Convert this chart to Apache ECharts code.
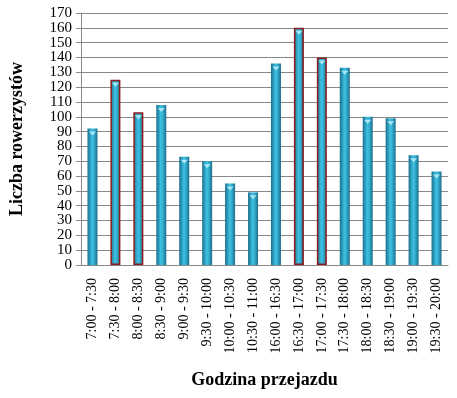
<!DOCTYPE html>
<html>
<head>
<meta charset="utf-8">
<script src="https://cdn.jsdelivr.net/npm/echarts@6/dist/echarts.min.js"></script>
<style>
  html, body { margin: 0; padding: 0; background: #fff; }
  #chart { width: 457px; height: 398px; }
</style>
</head>
<body>
<div id="chart"></div>
<script>
// przedziały czasowe i liczby rowerzystów
var categories = ['7:00 - 7:30', '7:30 - 8:00', '8:00 - 8:30', '8:30 - 9:00', '9:00 - 9:30',
  '9:30 - 10:00', '10:00 - 10:30', '10:30 - 11:00', '16:00 - 16:30', '16:30 - 17:00',
  '17:00 - 17:30', '17:30 - 18:00', '18:00 - 18:30', '18:30 - 19:00', '19:00 - 19:30', '19:30 - 20:00']
var values = [92, 125, 103, 108, 73, 70, 55, 49, 136, 160, 140, 133, 100, 99, 74, 63]
// godziny szczytu obrysowane na czerwono
var peakIndexes = [1, 2, 9, 10]
var yTicks = { min: 0, max: 170, interval: 10 }

var font = "'Liberation Serif', 'Times New Roman', serif"

var barFill = new echarts.graphic.LinearGradient(0, 0, 1, 0, [
  { offset: 0, color: '#1b6f8c' },
  { offset: 0.45, color: '#3dbfe0' },
  { offset: 0.6, color: '#38b6d8' },
  { offset: 1, color: '#1c6e8a' }
])

var barData = values.map(function (v, i) {
  var item = { value: v }
  if (peakIndexes.indexOf(i) >= 0) {
    item.itemStyle = { borderColor: '#8c1c1c', borderWidth: 1.5 }
  }
  return item
})

var chart = echarts.init(document.getElementById('chart'), null, { renderer: 'canvas' })
chart.setOption({
  animation: false,
  backgroundColor: '#fff',
  textStyle: { fontFamily: font },
  grid: { left: 73, right: 9, top: 13, bottom: 133, containLabel: false },
  xAxis: {
    type: 'category',
    data: categories,
    name: 'Godzina przejazdu',
    nameLocation: 'middle',
    nameGap: 106,
    nameTextStyle: { fontFamily: font, fontSize: 18, fontWeight: 'bold', color: '#000' },
    axisLine: { lineStyle: { color: '#888', width: 1 } },
    axisTick: { show: false },
    axisLabel: { rotate: 90, interval: 0, margin: 13, fontFamily: font, fontSize: 14, color: '#000' }
  },
  yAxis: {
    type: 'value',
    min: yTicks.min,
    max: yTicks.max,
    interval: yTicks.interval,
    name: 'Liczba rowerzystów',
    nameLocation: 'middle',
    nameGap: 55,
    nameTextStyle: { fontFamily: font, fontSize: 18, fontWeight: 'bold', color: '#000' },
    axisLine: { show: true, lineStyle: { color: '#888', width: 1 } },
    axisTick: { show: true, length: 5, lineStyle: { color: '#888' } },
    axisLabel: { margin: 9, fontFamily: font, fontSize: 15, color: '#000' },
    splitLine: { lineStyle: { color: '#888', width: 1 } }
  },
  series: [{
    type: 'bar',
    data: barData,
    barWidth: 10,
    itemStyle: { color: barFill }
  }, {
    // jasny trójkąt na szczycie słupka
    type: 'pictorialBar',
    data: values,
    symbol: 'path://M0,0 L10,0 L5,5 Z',
    symbolSize: [7, 4],
    symbolPosition: 'end',
    symbolOffset: [0, 3],
    itemStyle: { color: '#a8e8f6' },
    z: 3,
    silent: true
  }]
})
</script>
</body>
</html>
